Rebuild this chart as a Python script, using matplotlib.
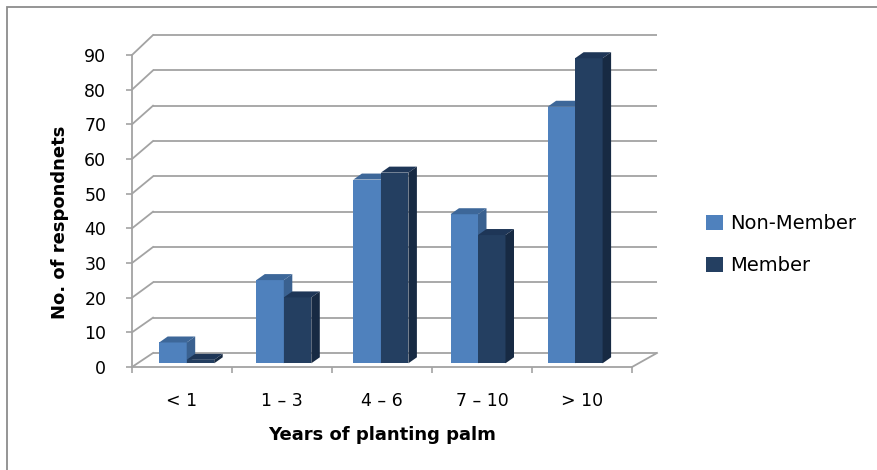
import matplotlib
matplotlib.use("Agg")
import matplotlib.pyplot as plt
from matplotlib.patches import Polygon, Rectangle, Patch
import numpy as np

categories = ["< 1", "1 \u2013 3", "4 \u2013 6", "7 \u2013 10", "> 10"]
non_member = [6, 24, 53, 43, 74]
member = [1, 19, 55, 37, 88]
y_ticks = [0, 10, 20, 30, 40, 50, 60, 70, 80, 90]
series_names = ["Non-Member", "Member"]

W, H = 877, 470
fig = plt.figure(figsize=(W / 100, H / 100), dpi=100)
plt.rcParams['font.family'] = ['DejaVu Sans']

def fx(px):
    return px / W

def fy(py):
    return 1 - py / H

# outer border
fig.patches.append(Rectangle((fx(7), fy(480)), fx(880) - fx(7), fy(7) - fy(480),
                             transform=fig.transFigure, fill=False,
                             edgecolor="#8c8c8c", linewidth=1.3))

ax = fig.add_axes([fx(132), fy(367), fx(632) - fx(132), fy(55) - fy(367)])
ax.set_xlim(-0.5, len(categories) - 0.5)
ax.set_ylim(0, 90)
ax.patch.set_alpha(0)

grid_col = "#a3a3a3"
# 3D frame constants (style)
BACK_DX_L, BACK_DX_R = 0.21, 0.25
BACK_DY, BACK_SCALE = 4.04, 1.019
FLOOR = 1.07
BAR_W = 0.275
DX, DY = 0.085, 1.73
SPACING = 0.971
SHIFT = 0.047

n = len(categories)
xl, xr = -0.5, n - 0.5
for v in y_ticks:
    by = BACK_DY + v * BACK_SCALE
    ax.plot([xl + BACK_DX_L, xr + BACK_DX_R], [by, by], color=grid_col, lw=1.3,
            clip_on=False, zorder=1, solid_capstyle='butt')
    ax.plot([xl, xl + BACK_DX_L], [v, by], color=grid_col, lw=1.3,
            clip_on=False, zorder=1)
# floor right edge
ax.plot([xr, xr + BACK_DX_R], [0, BACK_DY], color=grid_col, lw=1.3,
        clip_on=False, zorder=1)

colors = {
    0: ("#4f81bd", "#3d6799", "#3a6190"),
    1: ("#243f61", "#1e3657", "#172a43"),
}

for i in range(n):
    c = SHIFT + i * SPACING
    for s, vals in enumerate([non_member, member]):
        v = vals[i]
        x0 = c - BAR_W + s * BAR_W
        front, top, side = colors[s]
        ax.bar(x0, v, width=BAR_W, bottom=FLOOR, align='edge', color=front,
               edgecolor='none', zorder=3 + s, clip_on=False)
        t = FLOOR + v
        ax.add_patch(Polygon([(x0, t), (x0 + BAR_W, t), (x0 + BAR_W + DX, t + DY),
                              (x0 + DX, t + DY)], closed=True, facecolor=top,
                             edgecolor='none', zorder=3 + s, clip_on=False))
        ax.add_patch(Polygon([(x0 + BAR_W, FLOOR), (x0 + BAR_W, t),
                              (x0 + BAR_W + DX, t + DY), (x0 + BAR_W + DX, FLOOR + DY)],
                             closed=True, facecolor=side, edgecolor='none',
                             zorder=3 + s, clip_on=False))

for sp in ["top", "right"]:
    ax.spines[sp].set_visible(False)
for sp in ["left", "bottom"]:
    ax.spines[sp].set_color(grid_col)
    ax.spines[sp].set_linewidth(1.3)
    ax.spines[sp].set_zorder(2)

ax.set_yticks(y_ticks)
ax.set_yticklabels([str(t) for t in y_ticks], fontsize=12.5, color="#000000")
ax.tick_params(axis='y', length=4.5, width=1.2, color=grid_col, pad=14)

ax.set_xticks(np.arange(n + 1) - 0.5)
ax.set_xticklabels([])
ax.tick_params(axis='x', which='major', length=4.5, width=1.2, color=grid_col)
ax.set_xticks(np.arange(n), minor=True)
ax.set_xticklabels(categories, minor=True, fontsize=12.5)
ax.tick_params(axis='x', which='minor', length=0, pad=18)

fig.text(fx(382), fy(435), "Years of planting palm", fontsize=13, fontweight='bold',
         ha='center', va='center')
fig.text(fx(60), fy(222), "No. of respondnets", fontsize=13, fontweight='bold',
         ha='center', va='center', rotation=90)

handles = [Patch(facecolor=colors[0][0]), Patch(facecolor=colors[1][0])]
fig.legend(handles, series_names, loc='upper left',
           bbox_to_anchor=(fx(706), fy(214)), frameon=False, fontsize=14,
           handlelength=0.85, handleheight=0.85, handletextpad=0.4,
           labelspacing=1.2, borderaxespad=0, borderpad=0)

fig.savefig("out.png", dpi=100)
